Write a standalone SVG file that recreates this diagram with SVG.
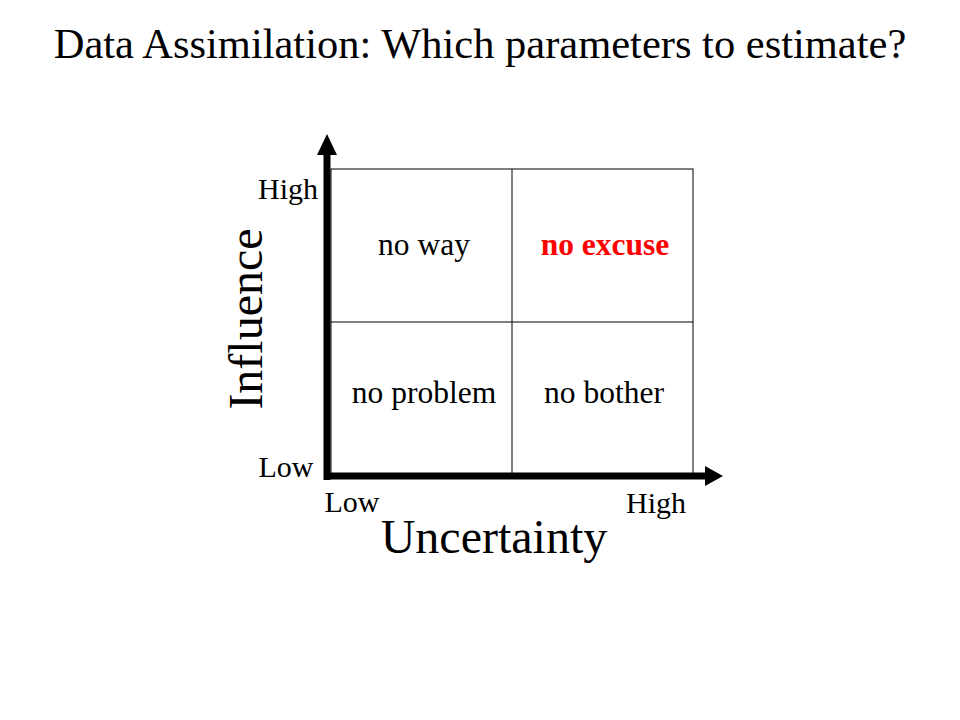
<svg xmlns="http://www.w3.org/2000/svg" width="960" height="720" viewBox="0 0 960 720">
<style>
text{font-family:"Liberation Serif","Times New Roman",serif;fill:#000}
.t{font-size:42.5px}
.ax{font-size:48px}
.lb{font-size:30px}
.c{font-size:31.5px}
.grid{fill:none;stroke:#000;stroke-width:1}
</style>
<rect width="960" height="720" fill="#fff"/>
<text class="t" x="480" y="58" text-anchor="middle">Data Assimilation: Which parameters to estimate?</text>
<g id="grid">
<rect class="grid" x="331" y="169" width="362" height="305"/>
<line class="grid" x1="512" y1="169" x2="512" y2="474"/>
<line class="grid" x1="331" y1="322" x2="693" y2="322"/>
</g>
<g id="axes">
<line x1="327" y1="152" x2="327" y2="480" stroke="#000" stroke-width="7"/>
<polygon points="327,134 317,155 337,155" fill="#000"/>
<line x1="324" y1="476" x2="708" y2="476" stroke="#000" stroke-width="7"/>
<polygon points="723,476 705,466 705,486" fill="#000"/>
</g>
<g id="cell-no-way"><text class="c" x="424" y="255" text-anchor="middle">no way</text></g>
<g id="cell-no-excuse"><text class="c" x="605" y="255" text-anchor="middle" font-weight="bold" style="fill:#f00">no excuse</text></g>
<g id="cell-no-problem"><text class="c" x="424" y="403" text-anchor="middle">no problem</text></g>
<g id="cell-no-bother"><text class="c" x="604" y="403" text-anchor="middle">no bother</text></g>
<text class="lb" x="288" y="199" text-anchor="middle">High</text>
<text class="lb" x="286" y="477" text-anchor="middle">Low</text>
<text class="lb" x="352" y="512" text-anchor="middle">Low</text>
<text class="lb" x="656" y="513" text-anchor="middle">High</text>
<text class="ax" x="494" y="553" text-anchor="middle">Uncertainty</text>
<text class="ax" transform="translate(262,319) rotate(-90)" text-anchor="middle">Influence</text>
</svg>
